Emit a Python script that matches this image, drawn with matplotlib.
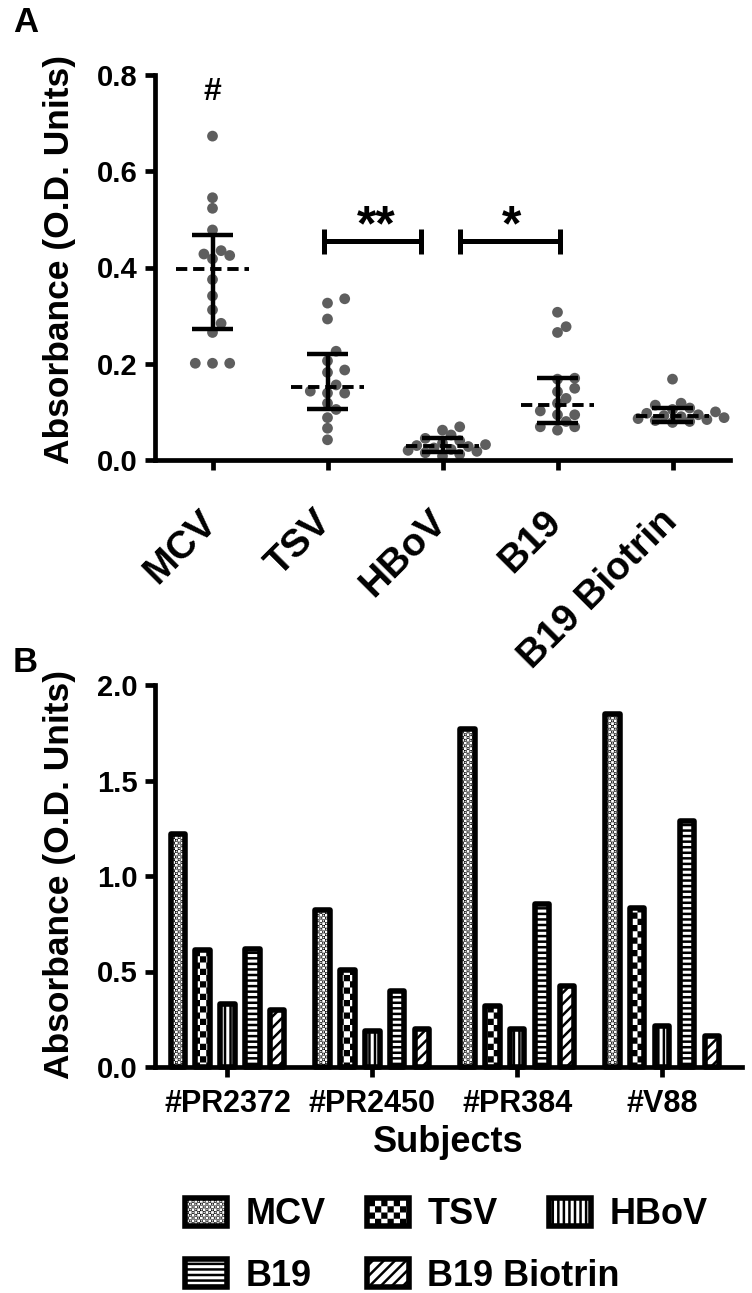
import numpy as np
import matplotlib
matplotlib.use("Agg")
import matplotlib.pyplot as plt
import matplotlib.hatch as mhatch
import matplotlib.transforms as mtransforms
from matplotlib.path import Path
from matplotlib.ticker import FormatStrFormatter

# ---------------- data ----------------
groups_a = ["MCV", "TSV", "HBoV", "B19", "B19 Biotrin"]
mcv_pts = [0.673, 0.545, 0.523, 0.478, 0.435, 0.428, 0.425, 0.418, 0.375, 0.341,
           0.312, 0.284, 0.265, 0.201, 0.201, 0.201]
tsv_pts = [0.335, 0.326, 0.293, 0.226, 0.206, 0.187, 0.182, 0.156, 0.143, 0.139,
           0.139, 0.118, 0.105, 0.088, 0.066, 0.042]
hbov_pts = [0.069, 0.062, 0.052, 0.045, 0.040, 0.035, 0.032, 0.030, 0.028, 0.025,
            0.022, 0.020, 0.018, 0.015, 0.012, 0.008]
b19_pts = [0.307, 0.277, 0.265, 0.170, 0.168, 0.149, 0.142, 0.128, 0.118, 0.102,
           0.094, 0.094, 0.080, 0.069, 0.069, 0.062]
biotrin_pts = [0.168, 0.118, 0.114, 0.108, 0.105, 0.100, 0.097, 0.094, 0.092, 0.090,
               0.088, 0.086, 0.084, 0.082, 0.080, 0.078]
medians_a = [0.396, 0.151, 0.029, 0.114, 0.092]
q1_a = [0.272, 0.107, 0.017, 0.076, 0.078]
q3_a = [0.468, 0.220, 0.046, 0.171, 0.109]

subjects = ["#PR2372", "#PR2450", "#PR384", "#V88"]
series_b = ["MCV", "TSV", "HBoV", "B19", "B19 Biotrin"]
mcv_b = [1.22, 0.82, 1.77, 1.85]
tsv_b = [0.61, 0.51, 0.32, 0.835]
hbov_b = [0.33, 0.19, 0.20, 0.213]
b19_b = [0.62, 0.40, 0.855, 1.29]
biotrin_b = [0.30, 0.20, 0.425, 0.163]

# ---------------- style ----------------
DPI = 100
HATCH_LW = 1.8
plt.rcParams["font.family"] = ["Liberation Sans", "DejaVu Sans"]
plt.rcParams["font.weight"] = "bold"
plt.rcParams["axes.labelweight"] = "bold"
plt.rcParams["hatch.linewidth"] = HATCH_LW
plt.rcParams["hatch.color"] = "black"
_lw_tile = HATCH_LW / 72.0


class _CheckerHatch(mhatch.HatchPatternBase):
    symbol = "o"
    cells = 36

    def __init__(self, hatch, density):
        self.n = self.cells if self.symbol in hatch else 0
        self.num_vertices = (self.n * self.n // 2) * 5

    def set_vertices_and_codes(self, vertices, codes):
        n = self.n
        c = 1.0 / n
        m = min(_lw_tile / 2.0, c * 0.45)
        k = 0
        for i in range(n):
            for j in range(n):
                if (i + j) % 2:
                    continue
                x0, x1 = i * c + m, (i + 1) * c - m
                y0, y1 = j * c + m, (j + 1) * c - m
                vertices[k:k + 5] = [(x0, y0), (x1, y0), (x1, y1), (x0, y1), (x0, y0)]
                codes[k:k + 5] = [Path.MOVETO, Path.LINETO, Path.LINETO,
                                  Path.LINETO, Path.CLOSEPOLY]
                k += 5


class _FineChecker(_CheckerHatch):
    symbol = "o"
    cells = 36


class _CoarseChecker(_CheckerHatch):
    symbol = "O"
    cells = 16


mhatch._hatch_types = [mhatch.HorizontalHatch, mhatch.VerticalHatch,
                       mhatch.NorthEastHatch, mhatch.SouthEastHatch,
                       _FineChecker, _CoarseChecker]

hatches_b = ["o", "O", "|||", "---", "///"]

W, H = 752, 1293
fig = plt.figure(figsize=(W / DPI, H / DPI), dpi=DPI)


def style_axes(ax):
    for s in ["top", "right"]:
        ax.spines[s].set_visible(False)
    for s in ["left", "bottom"]:
        ax.spines[s].set_linewidth(3.4)
        ax.spines[s].set_capstyle("projecting")
    ax.tick_params(axis="both", width=3.4, length=7.5, direction="out")


# ---------------- Panel A ----------------
axA = fig.add_axes([155 / W, 1 - 460 / H, 575 / W, 385 / H])
axA.set_xlim(-0.5, 4.5)
axA.set_ylim(0, 0.8)
style_axes(axA)

pts_all = [mcv_pts, tsv_pts, hbov_pts, b19_pts, biotrin_pts]
px_x = 575 / 5.0
px_y = 385 / 0.8
diam = 10.2
step = 8.6


def swarm(vals):
    vals = np.asarray(vals, float)
    order = np.argsort(vals)
    offs = np.zeros(len(vals))
    placed = []
    for idx in order:
        y = vals[idx] * px_y
        for k in [0, 1, -1, 2, -2, 3, -3, 4, -4, 5, -5, 6, -6]:
            x = k * step
            if all((x - px) ** 2 + (y - py) ** 2 >= (diam * 0.95) ** 2 for px, py in placed):
                break
        placed.append((x, y))
        offs[idx] = x / px_x
    return offs


for i, pts in enumerate(pts_all):
    xo = swarm(pts)
    axA.scatter(i + xo, pts, s=60, color="#5e5e5e", edgecolors="none", zorder=2, clip_on=False)

xs = np.arange(len(groups_a))
axA.hlines(medians_a, xs - 0.315, xs + 0.315, colors="black", linewidth=2.8,
           linestyles=(0, (2.9, 1.5)), zorder=3)
axA.vlines(xs, q1_a, q3_a, colors="black", linewidth=3.2, zorder=3)
axA.hlines(q1_a, xs - 0.175, xs + 0.175, colors="black", linewidth=3.2, zorder=3)
axA.hlines(q3_a, xs - 0.175, xs + 0.175, colors="black", linewidth=3.2, zorder=3)

axA.set_xticks(xs)
axA.set_xticklabels(groups_a, rotation=45, ha="right", va="top",
                    rotation_mode="anchor", fontsize=28)
axA.tick_params(axis="x", pad=14)
shift = mtransforms.ScaledTranslation(-10 / 72, -10 / 72, fig.dpi_scale_trans)
for lab in axA.get_xticklabels():
    lab.set_transform(lab.get_transform() + shift)
axA.set_yticks([0.0, 0.2, 0.4, 0.6, 0.8])
axA.yaxis.set_major_formatter(FormatStrFormatter("%.1f"))
axA.tick_params(axis="y", labelsize=21, pad=5)
axA.set_ylabel("Absorbance (O.D. Units)", fontsize=25.5)
axA.yaxis.set_label_coords(-0.137, 0.52)

# annotations
axA.text(0, 0.748, "#", ha="center", va="baseline", fontsize=23)
yb = 0.455
for (x0, x1) in [(0.97, 1.81), (2.15, 3.02)]:
    axA.plot([x0, x1], [yb, yb], color="black", lw=3.6, solid_capstyle="butt")
    axA.vlines([x0, x1], yb - 0.026, yb + 0.026, colors="black", lw=3.6)
axA.text(1.42, 0.456, "**", ha="center", va="baseline", fontsize=36)
axA.text(2.60, 0.456, "*", ha="center", va="baseline", fontsize=36)

# ---------------- Panel B ----------------
axB = fig.add_axes([155 / W, 1 - 1067 / H, 587 / W, 382 / H])
axB.set_xlim(-0.5, 3.55)
axB.set_ylim(0, 2.0)
style_axes(axB)

vals_b = [mcv_b, tsv_b, hbov_b, b19_b, biotrin_b]
xb = np.arange(len(subjects))
bar_step = 0.172
bar_w = 0.098
handles = []
for k, (name, v) in enumerate(zip(series_b, vals_b)):
    bc = axB.bar(xb + (k - 2) * bar_step, v, width=bar_w, facecolor="white",
                 edgecolor="black", linewidth=4.0, hatch=hatches_b[k], label=name,
                 zorder=2)
    for p in bc:
        p.set_joinstyle("round")
        p.set_clip_on(False)
    handles.append(bc)

axB.set_xticks(xb)
axB.set_xticklabels(subjects, fontsize=22)
axB.tick_params(axis="x", pad=8)
axB.set_yticks([0.0, 0.5, 1.0, 1.5, 2.0])
axB.yaxis.set_major_formatter(FormatStrFormatter("%.1f"))
axB.tick_params(axis="y", labelsize=21, pad=5)
axB.set_ylabel("Absorbance (O.D. Units)", fontsize=25.5)
axB.yaxis.set_label_coords(-0.134, 0.505)
axB.set_xlabel("Subjects", fontsize=26)
axB.xaxis.set_label_coords(0.5, -0.152)

# legend: two rows
leg_pos = [(185, 1215), (367, 1215), (549, 1215), (185, 1276), (367, 1276)]
for k, (hx, hy) in enumerate(leg_pos):
    fig.legend([handles[k]], [series_b[k]], loc="center left",
               bbox_to_anchor=(hx / W, 1 - hy / H), frameon=False, fontsize=26,
               borderpad=0, borderaxespad=0, handlelength=1.17, handleheight=0.83,
               handletextpad=0.5)

fig.text(13 / W, 1 - 6 / H, "A", ha="left", va="top", fontsize=25)
fig.text(13 / W, 1 - 646 / H, "B", ha="left", va="top", fontsize=25)

fig.savefig("out.png", dpi=DPI)
